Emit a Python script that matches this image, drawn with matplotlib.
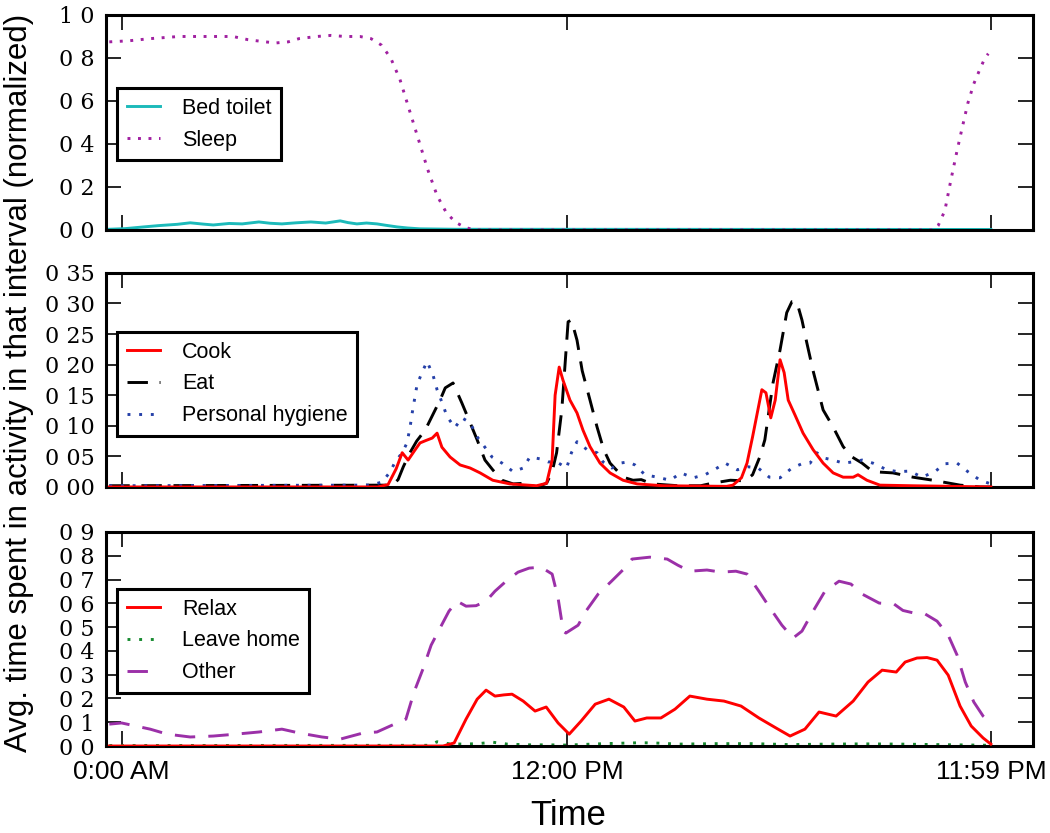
import numpy as np
import matplotlib
matplotlib.use("Agg")
import matplotlib.pyplot as plt
from matplotlib.ticker import FuncFormatter

# hours of the day (0 = 0:00 AM)
sleep_t = [-0.33, 0.2, 0.77, 1.55, 2.6, 3.0, 3.41, 3.87, 4.16, 4.49, 4.78, 5.26, 5.64, 6.02, 6.42, 6.72,
           7.0, 7.25, 7.5, 7.75, 8.0, 8.25, 8.5, 8.75, 9.0, 9.25, 9.5, 21.9, 22.0, 22.18, 22.34, 22.51,
           22.64, 22.8, 22.96, 23.13, 23.26, 23.35]
sleep_v = [0.875, 0.88, 0.89, 0.9, 0.9, 0.9, 0.885, 0.875, 0.87, 0.875, 0.89, 0.9, 0.905, 0.9, 0.9, 0.89,
           0.86, 0.8, 0.7, 0.56, 0.42, 0.28, 0.16, 0.08, 0.035, 0.012, 0.0, 0.0, 0.02, 0.09, 0.23, 0.37,
           0.47, 0.59, 0.68, 0.75, 0.8, 0.82]

bed_t = [-0.33, 0.1, 0.6, 1.0, 1.5, 1.85, 2.2, 2.47, 2.9, 3.25, 3.7, 4.0, 4.32, 4.7, 5.1, 5.5, 5.89,
         6.1, 6.34, 6.6, 6.88, 7.1, 7.42, 7.7, 8.04, 9.0, 23.42]
bed_v = [0.003, 0.006, 0.014, 0.02, 0.026, 0.033, 0.027, 0.023, 0.03, 0.028, 0.037, 0.031, 0.028, 0.033,
         0.037, 0.032, 0.042, 0.034, 0.028, 0.032, 0.028, 0.022, 0.014, 0.009, 0.005, 0.003, 0.002]

cook_t = [-0.33, 6.9, 7.18, 7.4, 7.56, 7.72, 7.9, 8.04, 8.2, 8.37, 8.5, 8.63, 8.85, 9.12, 9.39, 9.66,
          10.0, 10.46, 11.18, 11.45, 11.6, 11.68, 11.79, 11.89, 12.08, 12.27, 12.43, 12.62, 12.89, 13.16,
          13.51, 13.89, 14.59, 16.3, 16.47, 16.7, 16.85, 17.0, 17.25, 17.36, 17.49, 17.61, 17.74, 17.85,
          17.96, 18.14, 18.36, 18.63, 18.9, 19.17, 19.44, 19.71, 19.84, 20.08, 20.43, 21.3, 23.42]
cook_v = [0.0, 0.0, 0.004, 0.03, 0.056, 0.044, 0.06, 0.072, 0.076, 0.08, 0.088, 0.065, 0.049, 0.036,
          0.031, 0.023, 0.011, 0.005, 0.002, 0.006, 0.044, 0.15, 0.196, 0.175, 0.142, 0.121, 0.093, 0.066,
          0.039, 0.023, 0.011, 0.005, 0.002, 0.001, 0.003, 0.015, 0.039, 0.082, 0.159, 0.154, 0.113, 0.142,
          0.208, 0.187, 0.142, 0.118, 0.088, 0.061, 0.039, 0.023, 0.016, 0.016, 0.02, 0.011, 0.003, 0.002, 0.0]

eat_t = [-0.33, 7.3, 7.45, 7.59, 7.77, 7.95, 8.18, 8.4, 8.58, 8.72, 8.93, 9.17, 9.39, 9.58, 9.79, 10.0,
         10.25, 10.55, 10.82, 11.18, 11.45, 11.6, 11.72, 11.86, 11.99, 12.03, 12.12, 12.27, 12.41, 12.62,
         12.81, 12.99, 13.16, 13.51, 13.78, 14.0, 14.3, 15.0, 15.6, 15.9, 16.4, 16.8, 17.0, 17.2, 17.33,
         17.42, 17.55, 17.74, 17.92, 18.06, 18.19, 18.33, 18.46, 18.63, 18.9, 19.17, 19.44, 19.68, 19.95,
         20.24, 20.78, 21.32, 21.86, 22.59, 23.13, 23.42]
eat_v = [0.002, 0.003, 0.012, 0.033, 0.056, 0.075, 0.093, 0.12, 0.142, 0.162, 0.17, 0.137, 0.105, 0.077,
         0.044, 0.028, 0.011, 0.005, 0.006, 0.0, 0.006, 0.025, 0.056, 0.126, 0.236, 0.27, 0.273, 0.24, 0.19,
         0.142, 0.098, 0.061, 0.039, 0.016, 0.011, 0.012, 0.005, 0.002, 0.002, 0.006, 0.011, 0.01, 0.02,
         0.05, 0.077, 0.115, 0.17, 0.224, 0.285, 0.303, 0.303, 0.273, 0.236, 0.19, 0.126, 0.098, 0.066,
         0.049, 0.039, 0.025, 0.023, 0.016, 0.011, 0.003, 0.0, 0.0]

hyg_t = [-0.33, 6.7, 7.02, 7.24, 7.37, 7.56, 7.69, 7.77, 7.83, 7.96, 8.1, 8.23, 8.39, 8.5, 8.64, 8.77,
         8.98, 9.17, 9.39, 9.58, 9.74, 9.98, 10.25, 10.55, 10.82, 11.0, 11.27, 11.49, 11.72, 11.99, 12.12,
         12.27, 12.54, 12.81, 12.97, 13.21, 13.43, 13.65, 13.83, 14.1, 14.43, 14.78, 15.07, 15.4, 15.72,
         15.99, 16.26, 16.59, 16.88, 17.15, 17.45, 17.74, 18.06, 18.33, 18.55, 18.73, 18.95, 19.17, 19.44,
         19.71, 19.95, 20.24, 20.62, 20.92, 21.24, 21.56, 21.91, 22.18, 22.51, 22.8, 23.13, 23.42]
hyg_v = [0.002, 0.003, 0.008, 0.025, 0.041, 0.056, 0.072, 0.097, 0.121, 0.167, 0.188, 0.205, 0.183, 0.159,
         0.137, 0.115, 0.097, 0.113, 0.105, 0.082, 0.069, 0.049, 0.039, 0.025, 0.031, 0.049, 0.046, 0.041,
         0.041, 0.031, 0.056, 0.074, 0.061, 0.056, 0.041, 0.031, 0.039, 0.041, 0.036, 0.02, 0.016, 0.011,
         0.023, 0.015, 0.02, 0.029, 0.039, 0.028, 0.033, 0.031, 0.016, 0.015, 0.031, 0.038, 0.039, 0.056,
         0.047, 0.044, 0.039, 0.041, 0.044, 0.039, 0.028, 0.025, 0.026, 0.016, 0.025, 0.038, 0.039, 0.025,
         0.011, 0.005]

relax_t = [-0.33, 8.66, 8.96, 9.28, 9.58, 9.82, 10.06, 10.3, 10.52, 10.82, 11.14, 11.44, 11.76, 12.06,
           12.38, 12.76, 13.13, 13.53, 13.83, 14.15, 14.53, 14.91, 15.31, 15.77, 16.23, 16.69, 17.17, 17.63,
           18.01, 18.41, 18.79, 19.25, 19.71, 20.11, 20.49, 20.87, 21.11, 21.43, 21.7, 21.97, 22.27, 22.59,
           22.89, 23.21, 23.42]
relax_v = [0.0, 0.0, 0.013, 0.113, 0.197, 0.235, 0.21, 0.215, 0.218, 0.189, 0.147, 0.164, 0.097, 0.05,
           0.105, 0.176, 0.197, 0.164, 0.105, 0.118, 0.118, 0.155, 0.21, 0.197, 0.189, 0.168, 0.118, 0.076,
           0.042, 0.071, 0.143, 0.126, 0.189, 0.269, 0.319, 0.311, 0.353, 0.37, 0.372, 0.361, 0.298, 0.168,
           0.084, 0.034, 0.008]

leave_t = [-0.33, 8.3, 8.5, 8.8, 9.2, 9.6, 10.0, 10.4, 11.0, 11.5, 12.0, 12.5, 13.0, 13.5, 14.0, 14.5,
           15.0, 16.0, 17.0, 18.0, 19.0, 20.0, 21.0, 22.0, 23.0, 23.42]
leave_v = [0.002, 0.003, 0.018, 0.01, 0.008, 0.01, 0.016, 0.008, 0.005, 0.005, 0.004, 0.007, 0.01, 0.012,
           0.014, 0.012, 0.008, 0.01, 0.01, 0.006, 0.008, 0.009, 0.008, 0.006, 0.004, 0.003]

other_t = [-0.33, 0.0, 0.77, 1.23, 1.85, 2.47, 3.08, 3.7, 4.32, 4.78, 5.4, 5.89, 6.51, 6.88, 7.42, 7.66,
           7.88, 8.12, 8.34, 8.58, 8.82, 9.04, 9.28, 9.55, 9.82, 10.06, 10.36, 10.68, 10.98, 11.3, 11.6,
           11.76, 11.9, 11.97, 12.3, 12.51, 12.84, 13.2, 13.53, 13.75, 14.23, 14.7, 14.99, 15.31, 15.77,
           16.15, 16.55, 16.85, 17.17, 17.47, 17.79, 18.09, 18.33, 18.63, 18.95, 19.33, 19.65, 19.95, 20.41,
           20.81, 21.05, 21.35, 21.65, 21.97, 22.27, 22.51, 22.73, 22.96, 23.21, 23.42]
other_v = [0.092, 0.097, 0.071, 0.05, 0.038, 0.042, 0.05, 0.059, 0.071, 0.055, 0.038, 0.029, 0.055, 0.059,
           0.097, 0.113, 0.227, 0.324, 0.424, 0.496, 0.567, 0.609, 0.588, 0.59, 0.609, 0.651, 0.693, 0.731,
           0.748, 0.752, 0.723, 0.622, 0.483, 0.475, 0.508, 0.567, 0.639, 0.693, 0.744, 0.786, 0.794, 0.786,
           0.76, 0.735, 0.74, 0.731, 0.735, 0.723, 0.651, 0.58, 0.508, 0.454, 0.483, 0.567, 0.651, 0.693,
           0.681, 0.639, 0.601, 0.597, 0.57, 0.559, 0.555, 0.525, 0.466, 0.382, 0.269, 0.185, 0.126, 0.097]

tick_pos = [0, 12, 23.42]
tick_labels = ["0:00 AM", "12:00 PM", "11:59 PM"]

sans = "Liberation Sans"
serif = "DejaVu Serif"
lw = 2.1

fig = plt.figure(figsize=(10.5, 8.33), dpi=100)
ax1 = fig.add_axes([0.101, 0.724, 0.883, 0.258])
ax2 = fig.add_axes([0.101, 0.4154, 0.883, 0.257])
ax3 = fig.add_axes([0.101, 0.1044, 0.883, 0.257])

# top panel
ax1.plot(bed_t, bed_v, color="#1cbaba", lw=lw, label="Bed toilet")
ax1.plot(sleep_t, sleep_v, color="#a020a0", lw=lw, ls=(0, (1, 2.6)), label="Sleep")
ax1.set_ylim(0, 1.0)
ax1.set_yticks([0, 0.2, 0.4, 0.6, 0.8, 1.0])

# middle panel
ax2.plot(cook_t, cook_v, color="#ff0000", lw=lw, label="Cook", zorder=3)
ax2.plot(eat_t, eat_v, color="black", lw=lw, ls=(0, (7, 4)), label="Eat")
ax2.plot(hyg_t, hyg_v, color="#2540a8", lw=lw, ls=(0, (1, 3)), label="Personal hygiene")
ax2.set_ylim(0, 0.35)
ax2.set_yticks(np.arange(0, 0.36, 0.05))

# bottom panel
ax3.plot(relax_t, relax_v, color="#ff0000", lw=lw, label="Relax", zorder=3)
ax3.plot(leave_t, leave_v, color="#178a30", lw=lw, ls=(0, (1, 3)), label="Leave home")
ax3.plot(other_t, other_v, color="#9b30a8", lw=lw, ls=(0, (7, 4.5)), label="Other")
ax3.set_ylim(0, 0.9)
ax3.set_yticks(np.arange(0, 0.91, 0.1))

fmt1 = FuncFormatter(lambda v, p: f"{v:.1f}".replace(".", " "))
fmt2 = FuncFormatter(lambda v, p: f"{v:.2f}".replace(".", " "))
ax1.yaxis.set_major_formatter(fmt1)
ax2.yaxis.set_major_formatter(fmt2)
ax3.yaxis.set_major_formatter(fmt1)

legend_tops = [0.66, 0.724, 0.734]
for ax, top in zip([ax1, ax2, ax3], legend_tops):
    ax.set_xlim(-0.418, 24.56)
    ax.set_xticks(tick_pos)
    ax.tick_params(direction="in", length=11, width=1.2, top=True, right=True, pad=8)
    for lab in ax.get_yticklabels():
        lab.set_fontfamily(serif)
        lab.set_fontsize(16)
    for sp in ax.spines.values():
        sp.set_linewidth(2.2)
    leg = ax.legend(loc="upper left", bbox_to_anchor=(0.012, top), borderaxespad=0,
                    prop={"family": sans, "size": 15.5}, fancybox=False, framealpha=1,
                    handlelength=1.55, handletextpad=1.0, labelspacing=0.5, borderpad=0.45)
    leg.get_frame().set_edgecolor("black")
    leg.get_frame().set_linewidth(2.2)

ax1.set_xticklabels([])
ax2.set_xticklabels([])
ax3.set_xticklabels(tick_labels, fontfamily=sans, fontsize=19)
ax3.tick_params(axis="x", pad=10)

fig.text(0.541, 0.021, "Time", ha="center", va="center", fontfamily=sans, fontsize=25)
fig.text(0.018, 0.54, "Avg. time spent in activity in that interval (normalized)", rotation=90,
         ha="center", va="center", fontfamily=sans, fontsize=22.5)

fig.savefig("out.png", dpi=100)
